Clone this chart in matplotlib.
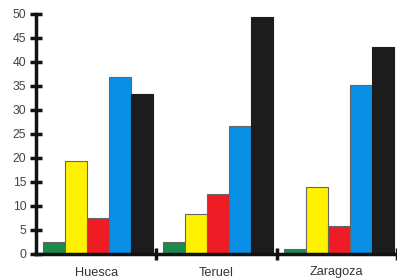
import matplotlib
matplotlib.use("Agg")
import matplotlib.pyplot as plt
import numpy as np

plt.rcParams['font.family'] = ['Liberation Sans', 'DejaVu Sans']

categories = ["Huesca", "Teruel", "Zaragoza"]
green = [2.4, 2.4, 1.0]
yellow = [19.4, 8.3, 14.0]
red = [7.4, 12.6, 5.9]
blue = [36.9, 26.6, 35.2]
black = [33.4, 49.4, 43.2]
yticks = [0, 5, 10, 15, 20, 25, 30, 35, 40, 45, 50]

series = [green, yellow, red, blue, black]
colors = ["#1b8a4c", "#fff200", "#ee1c25", "#0a8fe6", "#1c1c1c"]
edges = ["#666666", "#666666", "#666666", "#666666", "#1c1c1c"]

fig = plt.figure(figsize=(3.97, 2.78), dpi=100)
ax = fig.add_axes([36/397, 1-254/278, 1-36/397, (254-14)/278])

w = 0.183
off = 0.058
base = np.arange(len(categories))
for i, (vals, c, e) in enumerate(zip(series, colors, edges)):
    ax.bar(base + off + i*w, vals, width=w, align='edge', color=c,
           edgecolor=e, linewidth=0.8, zorder=2)

ax.set_xlim(0, 3)
ax.set_ylim(0, 50)
ax.set_yticks(yticks)
ax.set_xticks([1, 2, 3])
ax.set_xticklabels([])
ax.set_xticks(base + 0.5, minor=True)
ax.set_xticklabels(categories, minor=True, fontsize=9.2, color="#333333")
ax.tick_params(axis='x', which='minor', length=0, pad=9)
ax.tick_params(axis='x', which='major', direction='inout', length=8, width=2.5, color="#111111")
ax.tick_params(axis='y', direction='inout', length=8, width=2.5, color="#111111",
               labelsize=8.8, labelcolor="#444444", pad=3)
for s in ['top', 'right']:
    ax.spines[s].set_visible(False)
for s in ['left', 'bottom']:
    ax.spines[s].set_linewidth(2.5)
    ax.spines[s].set_color("#111111")

fig.savefig("out.png", dpi=100)
